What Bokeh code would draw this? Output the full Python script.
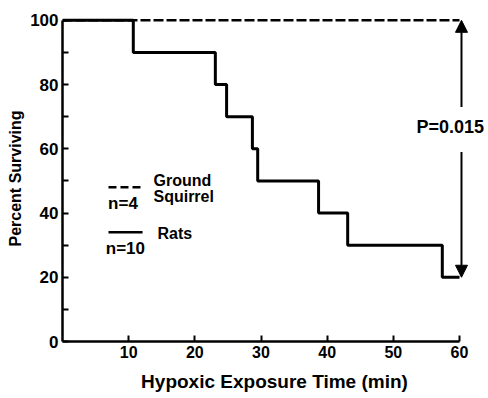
from bokeh.plotting import figure
from bokeh.models import (Range1d, FixedTicker, Label, Arrow, NormalHead)
from bokeh.embed import file_html
from bokeh.resources import INLINE

# ---- data ----
rat_time = [0, 10.7, 23.1, 24.8, 28.7, 29.5, 38.7, 43.1, 57.4, 60]
rat_surv = [100, 90, 80, 70, 60, 50, 40, 30, 20, 20]
squirrel_time = [0, 60]
squirrel_surv = [100, 100]
x_ticks = [10, 20, 30, 40, 50, 60]
y_ticks = [0, 20, 40, 60, 80, 100]
y_minor = [10, 30, 50, 70, 90]
p_text = "P=0.015"
arrow_x = 60.3
arrow_top = 100
arrow_bottom = 20

FONT = "Liberation Sans"

p = figure(width=486, height=396, output_backend="svg", toolbar_location=None,
           x_range=Range1d(0, 64.08), y_range=Range1d(0, 101.5),
           min_border_left=62, min_border_right=0, min_border_top=15,
           min_border_bottom=55)
p.outline_line_color = None
p.grid.grid_line_color = None
p.background_fill_color = "white"
p.border_fill_color = "white"

# axes
for ax in (p.xaxis[0], p.yaxis[0]):
    ax.axis_line_width = 2.5
    ax.axis_line_color = "black"
    ax.major_tick_in = 6
    ax.major_tick_out = 0
    ax.minor_tick_in = 6
    ax.minor_tick_out = 0
    ax.major_tick_line_width = 2
    ax.minor_tick_line_width = 2
    ax.major_tick_line_color = "black"
    ax.minor_tick_line_color = "black"
    ax.major_label_text_font = FONT
    ax.major_label_text_font_style = "bold"
    ax.major_label_text_color = "black"
    ax.axis_label_text_font = FONT
    ax.axis_label_text_font_style = "bold"
    ax.axis_label_text_color = "black"

p.xaxis.ticker = FixedTicker(ticks=x_ticks, minor_ticks=[])
p.xaxis.bounds = (0, 60)
p.xaxis.major_label_text_font_size = "16px"
p.xaxis.major_label_standoff = 4
p.xaxis.axis_label = "Hypoxic Exposure Time (min)"
p.xaxis.axis_label_text_font_size = "19px"
p.xaxis.axis_label_standoff = 10

p.yaxis.ticker = FixedTicker(ticks=y_ticks, minor_ticks=y_minor)
p.yaxis.bounds = (0, 100)
p.yaxis.major_label_text_font_size = "17px"
p.yaxis.major_label_standoff = 4
p.yaxis.axis_label = "Percent Surviving"
p.yaxis.axis_label_text_font_size = "16px"
p.yaxis.axis_label_standoff = 3

# ground squirrel (dashed) and rats (solid step)
p.line(squirrel_time, squirrel_surv, line_color="black", line_width=2.5,
       line_dash="10 3")
p.step(rat_time, rat_surv, mode="after", line_color="black", line_width=3)

# legend drawn in the plot
p.line([6.95, 11.8], [48.0, 48.0], line_color="black", line_width=2.5,
       line_dash="8 4")
p.line([6.95, 12.1], [34.0, 34.0], line_color="black", line_width=2.5)

def lbl(x, y, t, align="left", size="16px"):
    p.add_layout(Label(x=x, y=y, text=t, text_font=FONT, text_font_style="bold",
                       text_font_size=size, text_align=align,
                       text_baseline="middle", text_color="black"))

lbl(13.75, 50.2, "Ground")
lbl(13.75, 45.2, "Squirrel")
lbl(9.14, 43.0, "n=4", align="center", size="17px")
lbl(14.36, 33.6, "Rats")
lbl(9.5, 29.0, "n=10", align="center", size="17px")

# significance arrow
lbl(58.6, 66.7, p_text, align="center", size="18px")
p.add_layout(Arrow(x_start=arrow_x, y_start=73, x_end=arrow_x, y_end=arrow_top,
                   line_width=2, line_color="black",
                   end=NormalHead(size=12, fill_color="black", line_color="black")))
p.add_layout(Arrow(x_start=arrow_x, y_start=59, x_end=arrow_x, y_end=arrow_bottom,
                   line_width=2, line_color="black",
                   end=NormalHead(size=12, fill_color="black", line_color="black")))

open("out.html", "w").write(file_html(p, INLINE))
